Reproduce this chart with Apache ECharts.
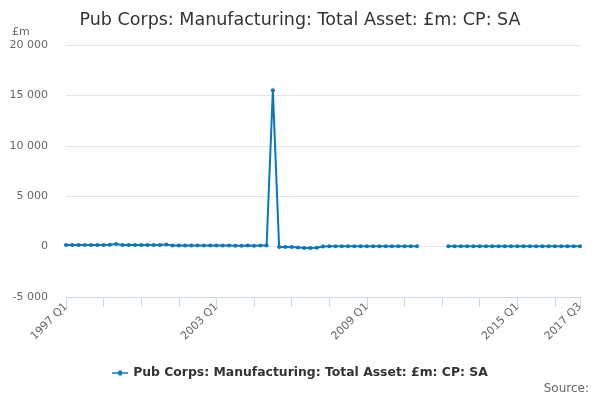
<!DOCTYPE html>
<html>
<head>
<meta charset="utf-8">
<script src="https://cdn.jsdelivr.net/npm/echarts@6/dist/echarts.min.js"></script>
<style>html,body{margin:0;padding:0;background:#fff}#c{width:600px;height:400px}</style>
</head>
<body>
<div id="c"></div>
<script>
const years = [1997,1998,1999,2000,2001,2002,2003,2004,2005,2006,2007,2008,2009,2010,2011,2012,2013,2014,2015,2016,2017];
const lastQuarter = 3;
const categories = [];
years.forEach(y => { for (let q = 1; q <= 4; q++) { if (y === 2017 && q > lastQuarter) break; categories.push(y + ' Q' + q); } });

const seriesName = 'Pub Corps: Manufacturing: Total Asset: £m: CP: SA';
const values = [
  150,160,160,150,150,160,170,180,250,170,160,170,160,150,160,170,200,
  120,110,110,100,100,100,100,100,100,100,90,90,100,90,100,100,
  15500,
  -50,-50,-50,-100,-150,-150,-120,
  20,30,30,30,30,30,30,30,30,30,30,30,30,30,30,30,
  null,null,null,null,
  30,30,30,30,30,30,30,30,30,30,30,30,30,30,30,30,30,30,30,30,30,30
];
const yTicks = [-5000, 0, 5000, 10000, 15000, 20000];

const fmt = v => { const s = Math.abs(v).toString().replace(/\B(?=(\d{3})+(?!\d))/g, ' '); return (v < 0 ? '-' : '') + s; };
const font = 'DejaVu Sans';
const chart = echarts.init(document.getElementById('c'));
chart.setOption({
  animation: false,
  title: { text: 'Pub Corps: Manufacturing: Total Asset: £m: CP: SA', left: 'center', top: 6,
    textStyle: { fontFamily: font, fontSize: 17.5, fontWeight: 'normal', color: '#333' } },
  graphic: [
    { type: 'text', left: 12, top: 27, style: { text: '£m', font: '11px "DejaVu Sans"', fill: '#666' } },
    { type: 'text', right: 11, top: 383, style: { text: 'Source:', font: '12px "DejaVu Sans"', fill: '#666' } }
  ],
  legend: { bottom: 16, left: 'center', itemWidth: 16, itemHeight: 6, itemGap: 5,
    textStyle: { fontFamily: font, fontSize: 12.4, fontWeight: 'bold', color: '#333' },
    icon: 'path://M0,2.3 L6,2.3 A2,2 0 1 1 10,2.3 L16,2.3 L16,3.7 L10,3.7 A2,2 0 1 1 6,3.7 L0,3.7 Z' },
  grid: { left: 66, right: 20, top: 45, bottom: 103, containLabel: false },
  xAxis: { type: 'category', data: categories, boundaryGap: false, z: 5,
    axisLine: { onZero: false, lineStyle: { color: '#ccd6eb' } },
    axisTick: { length: 10, lineStyle: { color: '#ccd6eb' }, interval: (i) => i % 6 === 0 || i === categories.length - 1 },
    axisLabel: { rotate: 45, interval: (i) => i % 24 === 0 || i === categories.length - 1, fontFamily: font, fontSize: 11, color: '#666', margin: 8 } },
  yAxis: { type: 'value', min: yTicks[0], max: yTicks[yTicks.length - 1], interval: 5000,
    axisLine: { show: false }, axisTick: { show: false },
    splitLine: { lineStyle: { color: '#e6e6e6' } },
    axisLabel: { formatter: fmt, fontFamily: font, fontSize: 11, color: '#666', margin: 18 } },
  series: [{ name: seriesName, type: 'line', data: values, connectNulls: false,
    symbol: 'circle', symbolSize: 4, showSymbol: true,
    lineStyle: { width: 2, color: '#0a77bd' }, itemStyle: { color: '#0a77bd' } }]
});
</script>
</body>
</html>
